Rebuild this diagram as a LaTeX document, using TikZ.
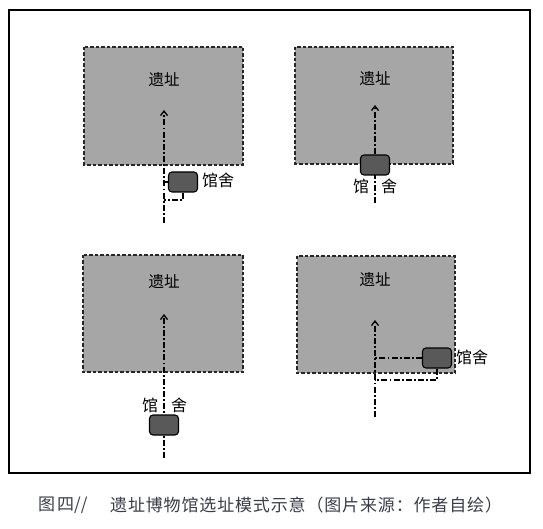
\documentclass[tikz,border=0pt]{standalone}
\usepackage{fontspec}
\newfontfamily\cjk{Noto Sans CJK SC}
\usetikzlibrary{arrows.meta}
\definecolor{capcol}{RGB}{58,60,72}
\begin{document}
\begin{tikzpicture}[x=1pt,y=-1pt,
  site/.style={draw=black!85,line width=1.1pt,fill=black!35,dash pattern=on 3.5pt off 2pt},
  bldg/.style={draw=black,line width=1.1pt,fill=black!65,rounded corners=3.5pt,minimum width=29pt,minimum height=20pt,inner sep=0pt},
  path/.style={line width=1.9pt,dash pattern=on 6pt off 2.2pt on 1.8pt off 2.2pt},
  arr/.style={path,-{Straight Barb[length=4.5pt,width=7pt,line width=1.3pt]}},
  lbl/.style={font=\cjk\fontsize{15.5}{15.5}\selectfont,inner sep=0pt},
  blbl/.style={font=\cjk\fontsize{16}{16}\selectfont,inner sep=0pt}]
\useasboundingbox (0,0) rectangle (543,529);
\draw[line width=1.3pt] (9,10) rectangle (530,473);
% panel 1
\draw[site] (84,47) rectangle (243,165);
\node[lbl] (s1) at (164,80) {遗址};
\coordinate (p1a) at (164,223);
\coordinate (p1b) at (164,110);
\draw[arr] (p1a) -- (p1b);
\node[bldg] (b1) at (183,182) {};
\node[blbl,anchor=west] (l1) at (202,180) {馆舍};
\coordinate (c1) at (164,200);
\draw[path] (b1.west) -- (b1.west -| p1a);
\draw[path] (b1.south) |- (c1);
% panel 2
\draw[site] (295,47) rectangle (453,164);
\node[lbl] (s2) at (375,79) {遗址};
\coordinate (p2a) at (375,203);
\coordinate (p2b) at (375,105);
\draw[arr] (p2a) -- (p2b);
\node[bldg] (b2) at (375,165) {};
\node[blbl] (l2a) at (361,186) {馆};
\node[blbl] (l2b) at (389,186) {舍};
% panel 3
\draw[site] (83,255) rectangle (243,372);
\node[lbl] (s3) at (164,282) {遗址};
\coordinate (p3a) at (164,458);
\coordinate (p3b) at (164,314);
\draw[arr] (p3a) -- (p3b);
\node[bldg] (b3) at (164,425) {};
\node[blbl] (l3a) at (150,405) {馆};
\node[blbl] (l3b) at (179,405) {舍};
% panel 4
\draw[site] (297,256) rectangle (455,373);
\node[lbl] (s4) at (375,280) {遗址};
\coordinate (p4a) at (375,417);
\coordinate (p4b) at (375,320);
\draw[arr] (p4a) -- (p4b);
\node[bldg] (b4) at (437,358) {};
\node[blbl,anchor=west] (l4) at (456,357) {馆舍};
\coordinate (c4) at (375,380);
\draw[path] (b4.west) -- (b4.west -| p4a);
\draw[path] (b4.south) |- (c4);
% caption
\node[font=\cjk\fontsize{17}{17}\selectfont,text=capcol,anchor=west,inner sep=0pt] (cap0) at (38,505) {图\hspace{2pt}四//};
\node[font=\cjk\fontsize{17}{17}\selectfont\addfontfeature{LetterSpace=5},text=capcol,anchor=west,inner sep=0pt] (cap) at (110,505) {遗址博物馆选址模式示意（图片来源：作者自绘）};
\end{tikzpicture}
\end{document}
